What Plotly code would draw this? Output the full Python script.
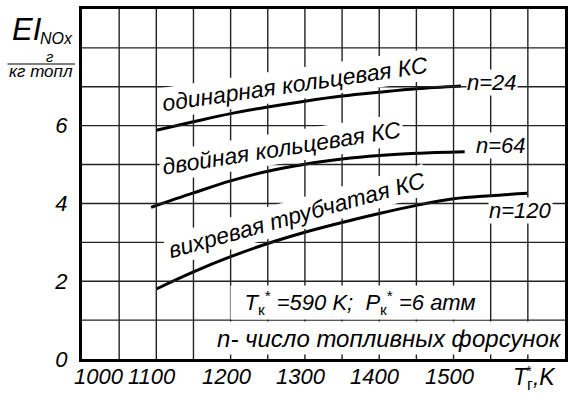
import plotly.graph_objects as go

# ---- data ----
T_single = [1100, 1150, 1200, 1250, 1300, 1350, 1400, 1450, 1510]
EI_single = [5.88, 6.10, 6.31, 6.48, 6.63, 6.76, 6.86, 6.95, 7.02]

T_double = [1093, 1150, 1200, 1250, 1300, 1350, 1400, 1450, 1515]
EI_double = [3.90, 4.27, 4.58, 4.83, 5.01, 5.14, 5.23, 5.29, 5.33]

T_swirl = [1100, 1150, 1200, 1250, 1300, 1350, 1400, 1450, 1500, 1550, 1600]
EI_swirl = [1.80, 2.24, 2.63, 2.97, 3.26, 3.51, 3.74, 3.95, 4.12, 4.20, 4.26]

x_tick_vals = [1000, 1100, 1200, 1300, 1400, 1500]
x_tick_text = ["1000", "1100", "1200", "1300", "1400", "1500"]
y_tick_vals = [0, 2, 4, 6]
y_tick_text = ["0", "2", "4", "6"]

curve_labels = ["одинарная кольцевая КС", "двойная кольцевая КС", "вихревая трубчатая КС"]
n_labels = ["n=24", "n=64", "n=120"]

FONT = "Liberation Sans, Arial, sans-serif"

# plot-area geometry (pixels) used only for placing the title block
L, R, T, B = 82, 568, 9, 359


def px_to_paper(px, py):
    return (px - L) / (R - L), (B - py) / (B - T)


fig = go.Figure()
for xs, ys in [(T_single, EI_single), (T_double, EI_double), (T_swirl, EI_swirl)]:
    fig.add_trace(go.Scatter(x=xs, y=ys, mode="lines",
                             line=dict(color="black", width=3, shape="spline"),
                             showlegend=False, hoverinfo="skip"))

GRID = "#222222"
fig.update_layout(
    width=568, height=394,
    margin=dict(l=L, r=568 - R, t=T, b=394 - B),
    paper_bgcolor="white", plot_bgcolor="white",
    font=dict(family=FONT, color="black"),
    xaxis=dict(range=[1000, 1650], tickmode="linear", tick0=1000, dtick=50,
               showticklabels=False, showgrid=False,
               showline=True, linecolor="black", linewidth=3, mirror=True,
               ticks="", zeroline=False),
    yaxis=dict(range=[0, 9], tickmode="array", tickvals=y_tick_vals,
               ticktext=[f"<i>{t}</i>" for t in y_tick_text],
               tickfont=dict(family=FONT, size=22),
               showgrid=False,
               showline=True, linecolor="black", linewidth=3, mirror=True,
               ticks="outside", ticklen=7, tickcolor="rgba(0,0,0,0)", zeroline=False),
)

# grid lines placed through the axes' own scales
grid_x = list(range(1050, 1650, 50))
grid_y = list(range(1, 9))
shapes = []
for gx in grid_x:
    shapes.append(dict(type="line", xref="x", yref="paper", x0=gx, x1=gx, y0=0, y1=1,
                       line=dict(color=GRID, width=1.4), layer="above"))
for gy in grid_y:
    shapes.append(dict(type="line", xref="paper", yref="y", x0=0, x1=1, y0=gy, y1=gy,
                       line=dict(color=GRID, width=1.4), layer="above"))

ann = []
# x tick labels
for v, t in zip(x_tick_vals, x_tick_text):
    ann.append(dict(x=v, y=0, xref="x", yref="paper", text=f"<i>{t}</i>",
                    showarrow=False, xanchor="center", yanchor="top", yshift=-3,
                    xshift=17 if v == 1000 else -4,
                    font=dict(size=22)))
ann.append(dict(x=1600, y=0, xref="x", yref="paper",
                text="<i>T</i><sub>г</sub><i>,K</i>", showarrow=False,
                xanchor="center", yanchor="top", yshift=-3, xshift=7, font=dict(size=23)))
ann.append(dict(x=1600, y=0, xref="x", yref="paper", text="*", showarrow=False,
                xanchor="center", yanchor="top", yshift=-1, xshift=1, font=dict(size=15)))

# curve labels
ann.append(dict(x=1287, y=7.07, text=f"<i>{curve_labels[0]}</i>", textangle=-8.3,
                showarrow=False, bgcolor="white", borderpad=2, font=dict(size=23)))
ann.append(dict(x=1269, y=5.43, text=f"<i>{curve_labels[1]}</i>", textangle=-9,
                showarrow=False, bgcolor="white", borderpad=2, font=dict(size=23)))
ann.append(dict(x=1289, y=3.70, text=f"<i>{curve_labels[2]}</i>", textangle=-15.5,
                showarrow=False, bgcolor="white", borderpad=2, font=dict(size=23)))

# n labels
ann.append(dict(x=1552, y=7.12, text=f"<i>{n_labels[0]}</i>", showarrow=False,
                bgcolor="white", borderpad=0, font=dict(size=22)))
ann.append(dict(x=1564, y=5.48, text=f"<i>{n_labels[1]}</i>", showarrow=False,
                bgcolor="white", borderpad=0, font=dict(size=22)))
ann.append(dict(x=1590, y=3.83, text=f"<i>{n_labels[2]}</i>", showarrow=False,
                bgcolor="white", borderpad=0, font=dict(size=22)))

# conditions text (white box masks the grid behind it)
ann.append(dict(x=1374, y=1.46,
                text="<i>T</i><sub>к</sub><sup>*</sup><i> =590 K;  P</i><sub>к</sub><sup>*</sup><i> =6 атм</i>",
                showarrow=False, bgcolor="white", width=256, height=31,
                font=dict(size=22)))
ann.append(dict(x=1414, y=0.55, text="<i>n- число топливных форсунок</i>",
                showarrow=False, bgcolor="white", width=345, height=30,
                font=dict(size=24)))

# y-axis title block
title_parts = [
    ("<i>EI</i>", 10, 29, "left", 31),
    ("<i>NOx</i>", 38, 38, "left", 16),
    ("<i>г</i>", 50, 57, "center", 15),
    ("<i>кг топл</i>", 41, 71, "center", 17),
]
for text, px, py, xa, fs in title_parts:
    xp, yp = px_to_paper(px, py)
    ann.append(dict(x=xp, y=yp, xref="paper", yref="paper", text=text,
                    showarrow=False, xanchor=xa, yanchor="middle", font=dict(size=fs)))

fig.update_layout(annotations=ann)

x0p, y0p = px_to_paper(7, 64)
x1p, _ = px_to_paper(75, 64)
shapes.append(dict(type="line", xref="paper", yref="paper", x0=x0p, x1=x1p, y0=y0p, y1=y0p,
                   line=dict(color="black", width=1.2)))
fig.update_layout(shapes=shapes)

fig.write_html("out.html")
